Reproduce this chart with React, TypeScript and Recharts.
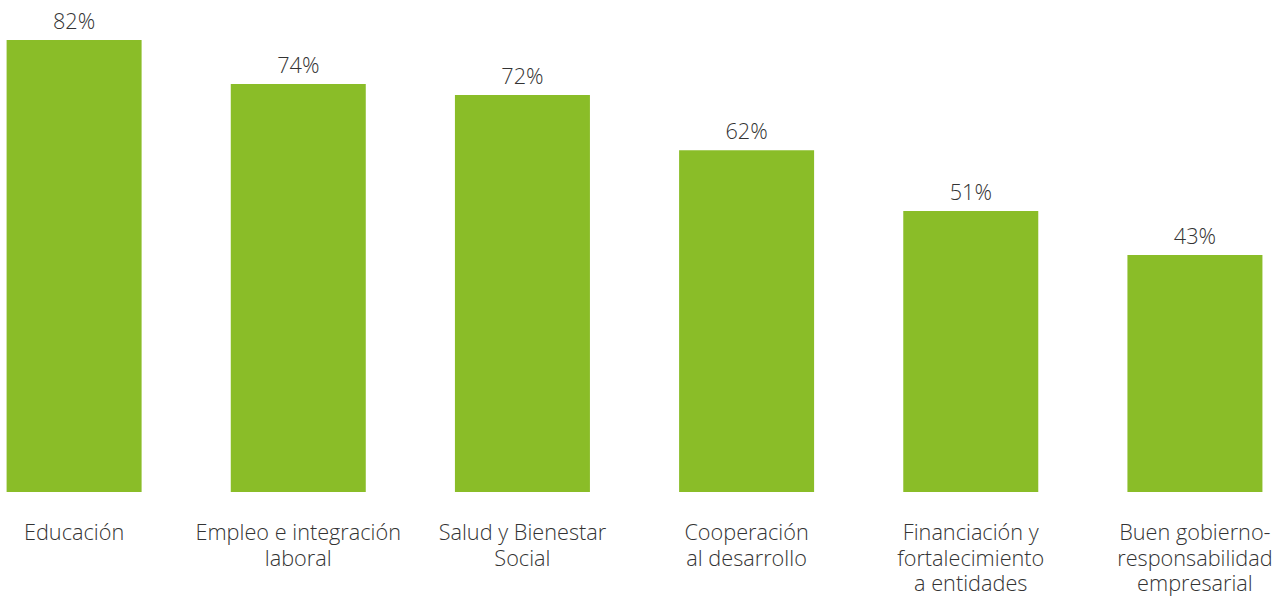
import React from 'react';
import { BarChart, Bar, XAxis, YAxis, LabelList } from 'recharts';

const categories = [
  'Educación',
  'Empleo e integración\nlaboral',
  'Salud y Bienestar\nSocial',
  'Cooperación\nal desarrollo',
  'Financiación y\nfortalecimiento\na entidades',
  'Buen gobierno-\nresponsabilidad\nempresarial',
];
const values = [82, 74, 72, 62, 51, 43];

const data = categories.map((name, i) => ({ name, value: values[i] }));

const FONT = '"Open Sans", sans-serif';
const TEXT = '#333333';
const GREEN = '#8abd28';

const CategoryTick = (props: any) => {
  const { x, y, payload } = props;
  const lines = String(payload.value).split('\n');
  return (
    <text x={x} y={y} textAnchor="middle" fill={TEXT} fontFamily={FONT} fontWeight={300} fontSize={21.7}>
      {lines.map((line, i) => (
        <tspan key={i} x={x} dy={i === 0 ? 40 : 25.5}>
          {line}
        </tspan>
      ))}
    </text>
  );
};

const App: React.FC = () => {
  return (
    <div style={{ position: 'absolute', left: 0, top: 0, width: 1282, height: 596, overflow: 'hidden', background: '#fff' }}>
      <div style={{ position: 'absolute', left: -37.6, top: 0 }}>
        <BarChart
          width={1345}
          height={596}
          data={data}
          margin={{ top: 40, right: 0, bottom: 0, left: 0 }}
          barCategoryGap={44.6}
        >
          <XAxis dataKey="name" axisLine={false} tickLine={false} interval={0} tick={<CategoryTick />} height={104} />
          <YAxis hide domain={[0, 82]} />
          <Bar dataKey="value" fill={GREEN} isAnimationActive={false}>
            <LabelList
              dataKey="value"
              position="top"
              offset={11}
              formatter={(v: any) => `${v}%`}
              style={{ fill: TEXT, fontFamily: FONT, fontWeight: 300, fontSize: 21.7 }}
            />
          </Bar>
        </BarChart>
      </div>
    </div>
  );
};

export default App;
